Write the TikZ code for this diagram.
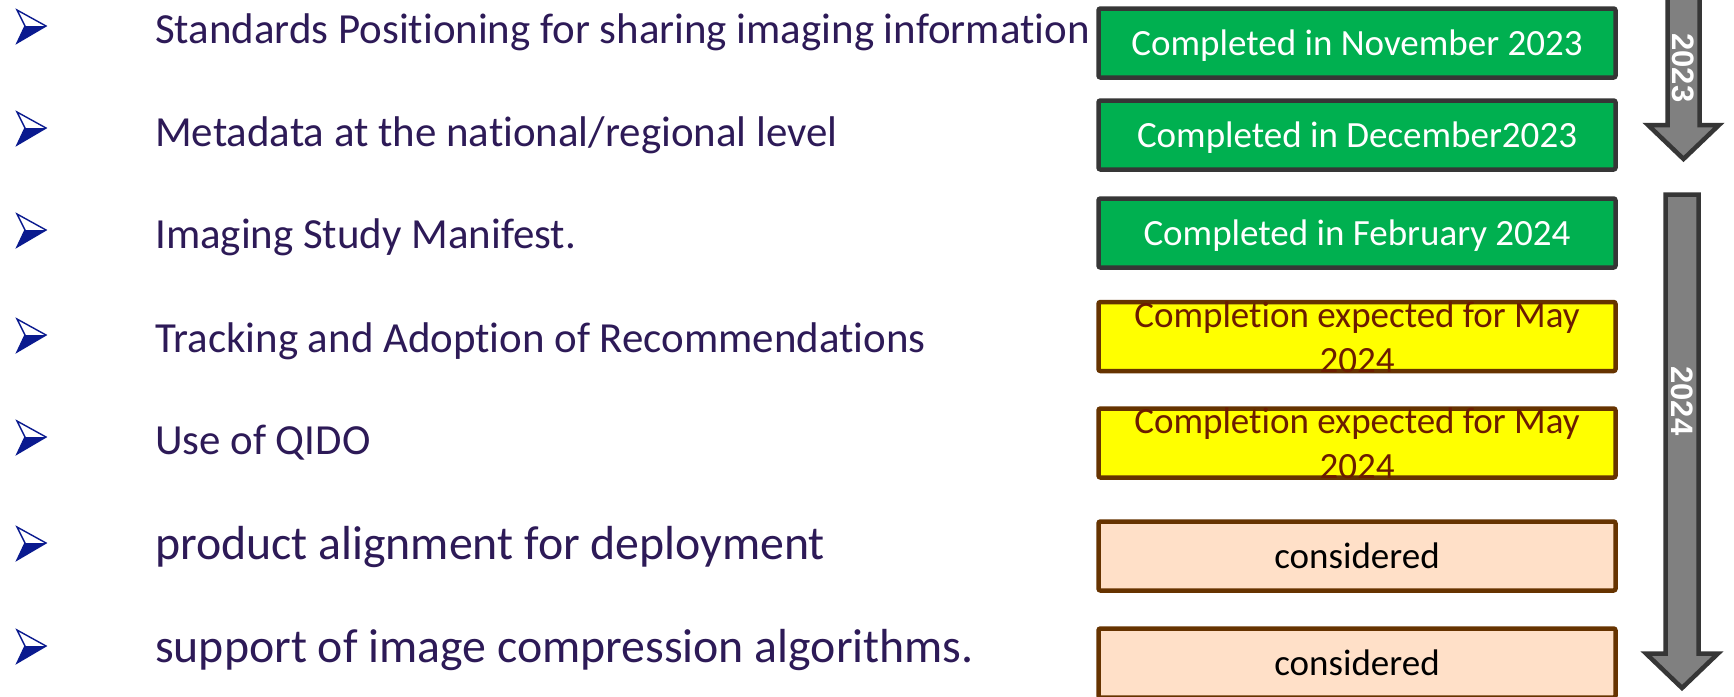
\documentclass[tikz,border=0pt]{standalone}
\usepackage{fontspec}
\setmainfont{Carlito}[Ligatures={NoCommon}]
\newfontfamily\arrowfont{Liberation Sans}
\begin{document}
\begin{tikzpicture}[x=1pt,y=-1pt,
  itemtext/.style={anchor=base west,inner sep=0pt,text=txtpurple,font=\fontsize{42.9}{51}\selectfont},
  itembig/.style={itemtext,font=\fontsize{47.8}{58}\selectfont},
  boxbase/.style={rectangle,rounded corners=2pt,line width=4.5pt,minimum width=517pt,minimum height=69pt,inner sep=0pt},
  greenbox/.style={boxbase,draw=boxgray,fill=boxgreen},
  yellowbox/.style={boxbase,draw=boxbrown,fill=boxyellow},
  peachbox/.style={boxbase,draw=boxbrown,fill=boxpeach},
  boxtext/.style={anchor=base,inner sep=0pt,font=\fontsize{37}{45}\selectfont},
  timearrow/.style={draw=boxgray,fill=arrowgray,line width=4.5pt,miter limit=10},
  yeartext/.style={rotate=-90,inner sep=0pt,text=white,font=\arrowfont\bfseries\fontsize{31}{36}\selectfont},
  bul/.pic={
    \fill[bulblue] (-21,0) -- (0,0) -- (-29,17) -- cycle;
    \draw[bulblue,line width=1.4pt,line join=miter] (-21,0) -- (-29,-16) -- (0,0) -- (-29,17) -- cycle;
  }]
\definecolor{txtpurple}{HTML}{2D1A57}
\definecolor{boxgray}{HTML}{363636}
\definecolor{boxgreen}{HTML}{00B050}
\definecolor{boxyellow}{HTML}{FFFF00}
\definecolor{boxbrown}{HTML}{663300}
\definecolor{boxpeach}{HTML}{FFE0C8}
\definecolor{arrowgray}{HTML}{808080}
\definecolor{bulblue}{HTML}{0A1A8F}
\definecolor{maroon}{HTML}{6B1C00}
\useasboundingbox (0,0) rectangle (1734,696);
\fill[white] (0,0) rectangle (1734,696);

% bullets
\foreach \yy in {26,128,230,335,437,543,646} {\pic at (46,\yy) {bul};}

% item texts
\node[itemtext] (t1) at (155,43) {Standards Posit\kern0pt ioning for sharing imaging informat\kern0pt ion};
\node[itemtext] (t2) at (155,146) {Metadata at the national/regional level};
\node[itemtext] (t3) at (155,248) {Imaging Study Manifest.};
\node[itemtext] (t4) at (155,352) {Tracking and Adopt\kern0pt ion of Recommendat\kern0pt ions};
\node[itemtext] (t5) at (155,454) {Use of QIDO};
\node[itembig] (t6) at (155,559) {product alignment for deployment};
\node[itembig] (t7) at (155,662) {support of image compression algorithms.};

% status boxes
\node[greenbox] (b1) at (1357,43) {};
\node[greenbox] (b2) at (1357,135) {};
\node[greenbox] (b3) at (1357,233) {};
\node[yellowbox] (b4) at (1357,336.5) {};
\node[yellowbox] (b5) at (1357,443) {};
\node[peachbox] (b6) at (1357,556) {};
\node[peachbox] (b7) at (1357,663) {};

\node[boxtext,text=white] (s1) at (1357,55) {Completed in November 2023};
\node[boxtext,text=white] (s2) at (1357,147) {Completed in December2023};
\node[boxtext,text=white] (s3) at (1357,245) {Completed in February 2024};
\node[boxtext,text=maroon] (s4a) at (1357,327) {Complet\kern0pt ion expected for May};
\node[boxtext,text=maroon] (s4b) at (1357,372) {2024};
\node[boxtext,text=maroon] (s5a) at (1357,433.5) {Complet\kern0pt ion expected for May};
\node[boxtext,text=maroon] (s5b) at (1357,478.5) {2024};
\node[boxtext,text=black] (s6) at (1357,568) {considered};
\node[boxtext,text=black] (s7) at (1357,675) {considered};

% time arrows
\draw[timearrow] (1667.5,-10) -- (1699.5,-10) -- (1699.5,125) -- (1719,125) -- (1683.5,159)
  -- (1648,125) -- (1667.5,125) -- cycle;
\node[yeartext] (y23) at (1683.5,68) {2023};
\draw[timearrow] (1665.5,194.5) -- (1698.5,194.5) -- (1698.5,653.5) -- (1718,653.5) -- (1682,688)
  -- (1646,653.5) -- (1665.5,653.5) -- cycle;
\node[yeartext] (y24) at (1682,401) {2024};
\end{tikzpicture}
\end{document}
